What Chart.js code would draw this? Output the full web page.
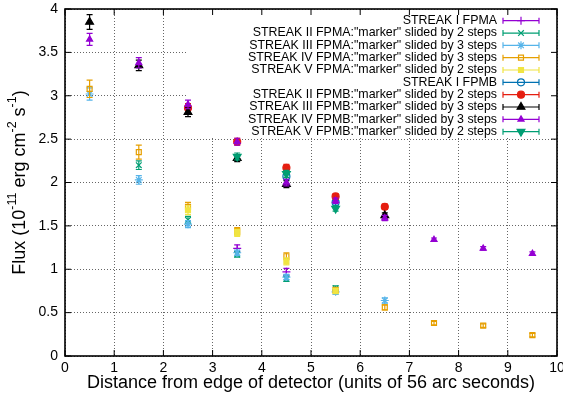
<!DOCTYPE html>
<html>
<head>
<meta charset="utf-8">
<script src="https://cdn.jsdelivr.net/npm/chart.js@4/dist/chart.umd.min.js"></script>
<style>
  html, body { margin: 0; padding: 0; background: #fff; }
  canvas { display: block; }
</style>
</head>
<body>
<canvas id="chart" width="563" height="398"></canvas>
<script>
// positions le long du detecteur (unites de 56")
const positions = [0.5, 1.5, 2.5, 3.5, 4.5, 5.5, 6.5, 7.5, 8.5, 9.5];

const noms = [
  "STREAK I FPMA",
  "STREAK II FPMA:\"marker\" slided by 2 steps",
  "STREAK III FPMA:\"marker\" slided by 3 steps",
  "STREAK IV FPMA:\"marker\" slided by 3 steps",
  "STREAK V FPMA:\"marker\" slided by 2 steps",
  "STREAK I FPMB",
  "STREAK II FPMB:\"marker\" slided by 2 steps",
  "STREAK III FPMB:\"marker\" slided by 3 steps",
  "STREAK IV FPMB:\"marker\" slided by 3 steps",
  "STREAK V FPMB:\"marker\" slided by 2 steps"
];

// flux (1e-11 erg/cm2/s), null = pas de point
const fluxIA   = [null, null, null, 1.24, 0.97, null, null, null, null, null];
const fluxIIA  = [null, 2.20, 1.57, 1.17, 0.89, 0.78, null, null, null, null];
const fluxIIIA = [3.02, 2.03, 1.52, 1.19, 0.91, 0.74, 0.64, null, null, null];
const fluxIVA  = [3.08, 2.35, 1.72, 1.44, 1.15, 0.76, 0.56, 0.38, 0.35, 0.24];
const fluxVA   = [null, null, 1.68, 1.42, 1.09, 0.75, null, null, null, null];
const fluxIB   = [null, null, null, null, 2.07, 1.77, null, null, null, null];
const fluxIIB  = [null, null, 2.86, 2.47, 2.17, 1.84, 1.72, null, null, null];
const fluxIIIB = [3.85, 3.35, 2.81, 2.28, 1.98, null, 1.62, null, null, null];
const fluxIVB  = [3.65, 3.38, 2.90, 2.47, 2.00, 1.79, 1.59, 1.34, 1.24, 1.18];
const fluxVB   = [null, null, null, 2.30, 2.10, 1.70, null, null, null, null];

// erreurs (+/-)
const errIA   = [0, 0, 0, 0.04, 0.04, 0, 0, 0, 0, 0];
const errIIA  = [0, 0.05, 0.04, 0.03, 0.03, 0.03, 0, 0, 0, 0];
const errIIIA = [0.07, 0.05, 0.04, 0.03, 0.03, 0.03, 0.03, 0, 0, 0];
const errIVA  = [0.10, 0.08, 0.05, 0.04, 0.04, 0.03, 0.03, 0.02, 0.02, 0.02];
const errVA   = [0, 0, 0.05, 0.04, 0.04, 0.03, 0, 0, 0, 0];
const errIB   = [0, 0, 0, 0, 0.04, 0.03, 0, 0, 0, 0];
const errIIB  = [0, 0, 0.05, 0.04, 0.04, 0.03, 0.03, 0, 0, 0];
const errIIIB = [0.085, 0.06, 0.05, 0.04, 0.04, 0, 0.03, 0, 0, 0];
const errIVB  = [0.07, 0.06, 0.05, 0.04, 0.04, 0.03, 0.03, 0.02, 0.02, 0.02];
const errVB   = [0, 0, 0, 0.04, 0.04, 0.03, 0, 0, 0, 0];

const xTicks = [0, 1, 2, 3, 4, 5, 6, 7, 8, 9, 10];
const yTicks = [0, 0.5, 1, 1.5, 2, 2.5, 3, 3.5, 4];

const couleurs = ["#9400d3", "#009e73", "#56b4e9", "#e69f00", "#f0e442",
                  "#0072b2", "#e51e10", "#000000", "#9400d3", "#009e73"];
const styles = [
  {pointStyle: "cross", remplir: false, r: 4, rot: 0},
  {pointStyle: "crossRot", remplir: false, r: 4, rot: 0},
  {pointStyle: "star", remplir: false, r: 4, rot: 0},
  {pointStyle: "rect", remplir: false, r: 3.5, rot: 0},
  {pointStyle: "rect", remplir: true, r: 3.5, rot: 0},
  {pointStyle: "circle", remplir: false, r: 3.5, rot: 0},
  {pointStyle: "circle", remplir: true, r: 3.5, rot: 0},
  {pointStyle: "triangle", remplir: true, r: 4.5, rot: 0},
  {pointStyle: "triangle", remplir: true, r: 3.5, rot: 0},
  {pointStyle: "triangle", remplir: true, r: 4.5, rot: 180}
];

const series = [fluxIA, fluxIIA, fluxIIIA, fluxIVA, fluxVA, fluxIB, fluxIIB, fluxIIIB, fluxIVB, fluxVB];
const erreurs = [errIA, errIIA, errIIIA, errIVA, errVA, errIB, errIIB, errIIIB, errIVB, errVB];

const police = "'Liberation Sans', Arial, sans-serif";

const datasets = series.map((vals, i) => ({
  label: noms[i],
  data: positions.map((x, k) => vals[k] === null ? null : {x: x, y: vals[k], e: erreurs[i][k]}).filter(p => p),
  borderColor: couleurs[i],
  backgroundColor: styles[i].remplir ? couleurs[i] : "rgba(0,0,0,0)",
  pointStyle: styles[i].pointStyle,
  pointRadius: styles[i].r,
  pointRotation: styles[i].rot,
  pointBorderWidth: 1.2,
  showLine: false,
  order: 9 - i
}));

const X0 = 65, X1 = 557, Y0 = 9, Y1 = 356;

function marqueur(ctx, i, x, y) {
  Chart.helpers.drawPoint(ctx, {
    pointStyle: styles[i].pointStyle,
    radius: styles[i].r,
    rotation: styles[i].rot,
    borderWidth: 1.2
  }, x, y);
}

const decor = {
  id: "decor",
  beforeDatasetsDraw(chart) {
    const ctx = chart.ctx;
    // zone de la legende, opaque
    ctx.save();
    ctx.fillStyle = "#fff";
    ctx.fillRect(186, 10, 370, 128);
    ctx.restore();
  },
  beforeDatasetDraw(chart, args) {
    const i = args.index;
    const ctx = chart.ctx;
    const xs = chart.scales.x, ys = chart.scales.y;
    ctx.save();
    ctx.strokeStyle = couleurs[i];
    ctx.lineWidth = 1.2;
    chart.data.datasets[i].data.forEach(p => {
      if (!p.e) return;
      const px = xs.getPixelForValue(p.x);
      const hi = ys.getPixelForValue(p.y + p.e);
      const lo = ys.getPixelForValue(p.y - p.e);
      ctx.beginPath();
      ctx.moveTo(px, hi); ctx.lineTo(px, lo);
      ctx.moveTo(px - 3, hi); ctx.lineTo(px + 3, hi);
      ctx.moveTo(px - 3, lo); ctx.lineTo(px + 3, lo);
      ctx.stroke();
    });
    ctx.restore();
  },
  afterDraw(chart) {
    const ctx = chart.ctx;
    const xs = chart.scales.x, ys = chart.scales.y;
    const a = chart.chartArea;
    ctx.save();
    // graduations internes + miroir
    ctx.strokeStyle = "#000";
    ctx.lineWidth = 1;
    ctx.beginPath();
    xTicks.forEach(v => {
      const px = xs.getPixelForValue(v);
      ctx.moveTo(px, a.bottom); ctx.lineTo(px, a.bottom - 6);
      ctx.moveTo(px, a.top); ctx.lineTo(px, a.top + 6);
    });
    yTicks.forEach(v => {
      const py = ys.getPixelForValue(v);
      ctx.moveTo(a.left, py); ctx.lineTo(a.left + 6, py);
      ctx.moveTo(a.right, py); ctx.lineTo(a.right - 6, py);
    });
    ctx.stroke();
    // cadre
    ctx.lineWidth = 1.6;
    ctx.strokeRect(a.left, a.top, a.right - a.left, a.bottom - a.top);

    // legende
    ctx.font = "12.4px " + police;
    ctx.textAlign = "right";
    ctx.textBaseline = "middle";
    noms.forEach((nom, i) => {
      const y = 20.7 + i * 12.33;
      ctx.fillStyle = "#000";
      ctx.fillText(nom, 497, y);
      ctx.strokeStyle = couleurs[i];
      ctx.fillStyle = styles[i].remplir ? couleurs[i] : "rgba(0,0,0,0)";
      ctx.lineWidth = 1.2;
      ctx.beginPath();
      ctx.moveTo(503, y); ctx.lineTo(539, y);
      ctx.moveTo(503, y - 3); ctx.lineTo(503, y + 3);
      ctx.moveTo(539, y - 3); ctx.lineTo(539, y + 3);
      ctx.stroke();
      marqueur(ctx, i, 521, y);
    });

    // titres des axes
    ctx.fillStyle = "#000";
    ctx.font = "18px " + police;
    ctx.textAlign = "center";
    ctx.textBaseline = "middle";
    ctx.fillText("Distance from edge of detector (units of 56 arc seconds)", (a.left + a.right) / 2, 383);

    const morceaux = [
      ["Flux (10", 0], ["-11", 1], [" erg cm", 0], ["-2", 1], [" s", 0], ["-1", 1], [")", 0]
    ];
    const grand = "18px " + police, petit = "12.5px " + police;
    let total = 0;
    morceaux.forEach(m => { ctx.font = m[1] ? petit : grand; total += ctx.measureText(m[0]).width; });
    ctx.translate(20, (a.top + a.bottom) / 2);
    ctx.rotate(-Math.PI / 2);
    ctx.textAlign = "left";
    let cx = -total / 2;
    morceaux.forEach(m => {
      ctx.font = m[1] ? petit : grand;
      ctx.fillText(m[0], cx, m[1] ? -7 : 0);
      cx += ctx.measureText(m[0]).width;
    });
    ctx.restore();
  }
};

new Chart(document.getElementById("chart"), {
  type: "scatter",
  data: { datasets: datasets },
  options: {
    responsive: false,
    devicePixelRatio: 1,
    animation: false,
    layout: { padding: { left: 0, right: 563 - X1, top: Y0, bottom: 0 } },
    plugins: { legend: { display: false }, tooltip: { enabled: false } },
    scales: {
      x: {
        min: 0, max: 10,
        afterFit(scale) {
          scale.height = 398 - Y1;
          scale.paddingLeft = 0; scale.paddingRight = 0;
        },
        afterBuildTicks(scale) { scale.ticks = xTicks.map(v => ({value: v})); },
        ticks: { color: "#000", font: { family: police, size: 14 }, padding: 4, maxRotation: 0,
                 callback: v => String(v) },
        grid: { color: "#666", lineWidth: 1, drawTicks: false },
        border: { display: false, dash: [1, 2] }
      },
      y: {
        min: 0, max: 4,
        afterFit(scale) {
          scale.width = X0;
          scale.paddingTop = 0; scale.paddingBottom = 0;
        },
        afterBuildTicks(scale) { scale.ticks = yTicks.map(v => ({value: v})); },
        ticks: { color: "#000", font: { family: police, size: 14 }, padding: 7,
                 callback: v => String(v) },
        grid: { color: "#666", lineWidth: 1, drawTicks: false },
        border: { display: false, dash: [1, 2] }
      }
    }
  },
  plugins: [decor]
});
</script>
</body>
</html>
